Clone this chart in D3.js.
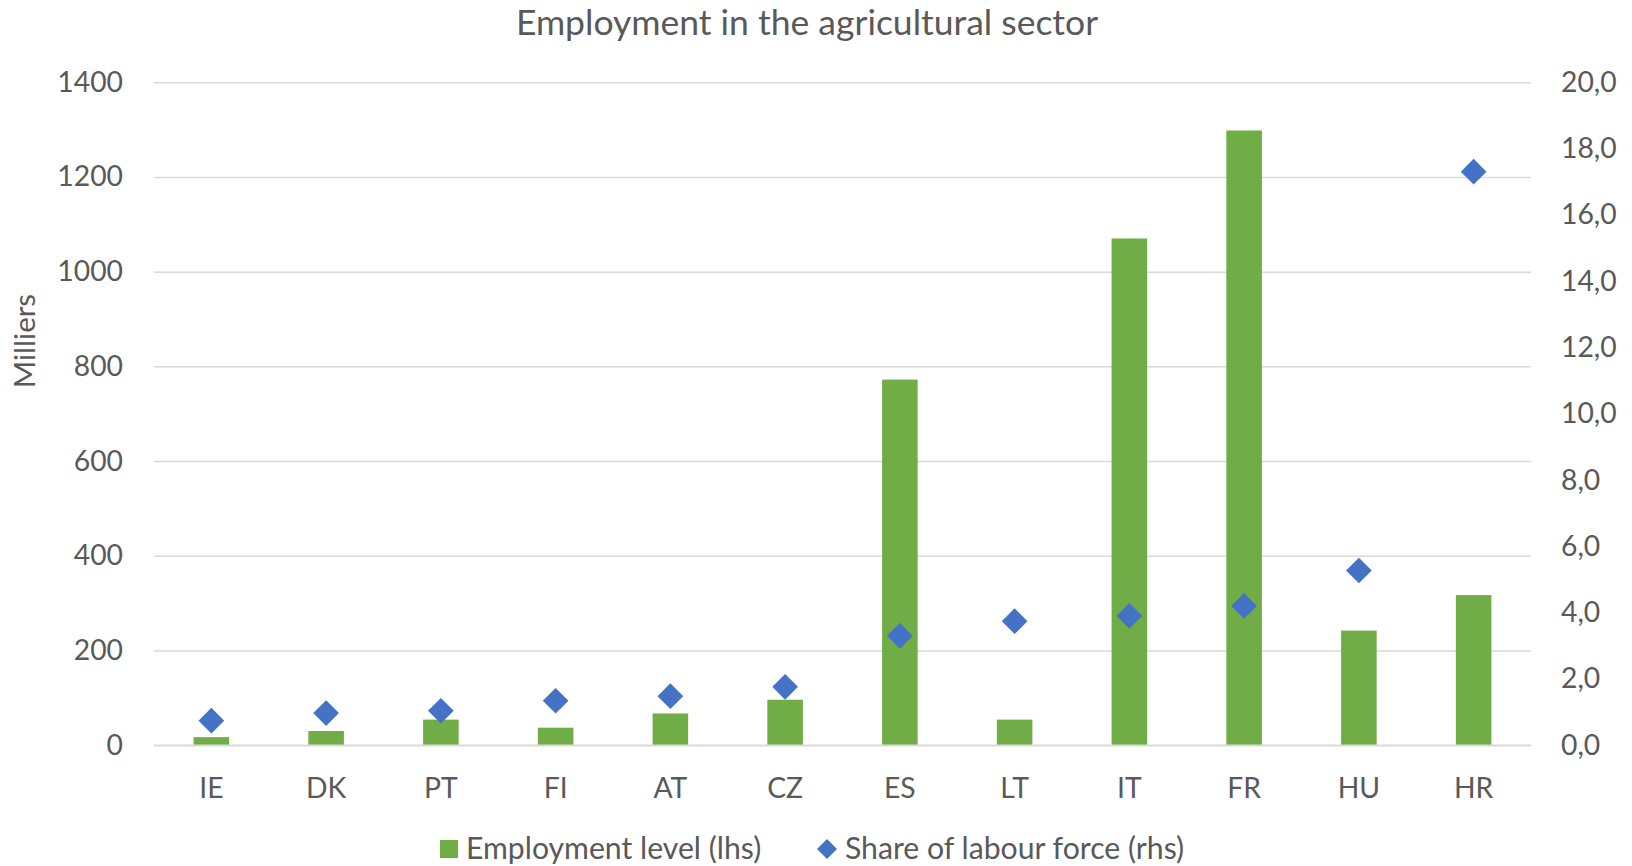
<!DOCTYPE html>
<html>
<head>
<meta charset="utf-8">
<script src="https://cdn.jsdelivr.net/npm/d3@7"></script>
<style>
  html, body { margin: 0; padding: 0; background: #fff; }
  svg { display: block; }
  text { font-family: Lato, "Open Sans", sans-serif; fill: #595959; }
</style>
</head>
<body>
<svg id="chart" width="1632" height="866"></svg>
<script>
const categories = ["IE", "DK", "PT", "FI", "AT", "CZ", "ES", "LT", "IT", "FR", "HU", "HR"];
const employment = [17, 30, 54, 37, 67, 96, 772, 54, 1070, 1298, 242, 317];
const share = [0.74, 0.97, 1.04, 1.34, 1.48, 1.76, 3.30, 3.74, 3.90, 4.20, 5.27, 17.3];
const leftTicks = [0, 200, 400, 600, 800, 1000, 1200, 1400];
const rightTicks = [0, 2, 4, 6, 8, 10, 12, 14, 16, 18, 20];

const svg = d3.select("#chart");
const margin = { left: 154, right: 1531, top: 82.2, bottom: 745.2 };

const x = d3.scaleBand().domain(categories).range([margin.left, margin.right]).padding(0);
const yL = d3.scaleLinear().domain([0, 1400]).range([margin.bottom, margin.top]);
const yR = d3.scaleLinear().domain([0, 20]).range([margin.bottom, margin.top]);
const barW = x.bandwidth() * 0.31;

// Title
svg.append("text")
  .attr("x", 807).attr("y", 35)
  .attr("text-anchor", "middle")
  .style("font-size", "35.5px")
  .text("Employment in the agricultural sector");

// Gridlines (left axis)
const gridAxis = d3.axisLeft(yL).tickValues(leftTicks).tickSize(-(margin.right - margin.left)).tickFormat("");
const grid = svg.append("g").attr("transform", `translate(${margin.left},0)`).call(gridAxis);
grid.select(".domain").remove();
grid.selectAll(".tick line").attr("stroke", "#D9D9D9").attr("stroke-width", 1.5);

// Left axis labels
const leftAxis = d3.axisLeft(yL).tickValues(leftTicks).tickSize(0).tickPadding(0).tickFormat(d3.format("d"));
const la = svg.append("g").attr("transform", `translate(123,0)`).call(leftAxis);
la.select(".domain").remove();
la.selectAll("text").style("font-size", "28.3px").style("font-family", "Lato, sans-serif").attr("fill", "#595959");

// Right axis labels
const rightAxis = d3.axisRight(yR).tickValues(rightTicks).tickSize(0).tickPadding(0)
  .tickFormat(d => d3.format(".1f")(d).replace(".", ","));
const ra = svg.append("g").attr("transform", `translate(1561,0)`).call(rightAxis);
ra.select(".domain").remove();
ra.selectAll("text").style("font-size", "28.3px").style("font-family", "Lato, sans-serif").attr("fill", "#595959");

// Bars
svg.append("g").selectAll("rect").data(categories).join("rect")
  .attr("x", (d) => x(d) + x.bandwidth() / 2 - barW / 2)
  .attr("width", barW)
  .attr("y", (d, i) => yL(employment[i]))
  .attr("height", (d, i) => yL(0) - yL(employment[i]))
  .attr("fill", "#70AD47");

// Baseline gridline over bars
svg.append("line")
  .attr("x1", margin.left).attr("x2", margin.right)
  .attr("y1", yL(0)).attr("y2", yL(0))
  .attr("stroke", "#D9D9D9").attr("stroke-width", 1.5);

// Diamonds
const diamond = d3.symbol().type(d3.symbolSquare).size(330);
svg.append("g").selectAll("path").data(categories).join("path")
  .attr("d", diamond)
  .attr("transform", (d, i) => `translate(${x(d) + x.bandwidth() / 2},${yR(share[i])}) rotate(45)`)
  .attr("fill", "#4472C4");

// Category axis labels
const xAxis = d3.axisBottom(x).tickSize(0).tickPadding(0);
const xa = svg.append("g").attr("transform", `translate(0,${798 - 21})`).call(xAxis);
xa.select(".domain").remove();
xa.selectAll("text").attr("dy", 0).attr("y", 21).style("font-size", "28.3px").style("font-family", "Lato, sans-serif").attr("fill", "#595959");

// Y axis title
svg.append("text")
  .attr("transform", "translate(35,341) rotate(-90)")
  .attr("text-anchor", "middle")
  .style("font-size", "29.5px")
  .text("Milliers");

// Legend
const lg = svg.append("g");
lg.append("rect").attr("x", 440).attr("y", 840).attr("width", 18).attr("height", 18).attr("fill", "#70AD47");
lg.append("text").attr("x", 466).attr("y", 859).style("font-size", "30.2px").text("Employment level (lhs)");
lg.append("path").attr("d", d3.symbol().type(d3.symbolSquare).size(200))
  .attr("transform", "translate(827,849) rotate(45)").attr("fill", "#4472C4");
lg.append("text").attr("x", 845).attr("y", 859).style("font-size", "30.2px").text("Share of labour force (rhs)");
</script>
</body>
</html>
